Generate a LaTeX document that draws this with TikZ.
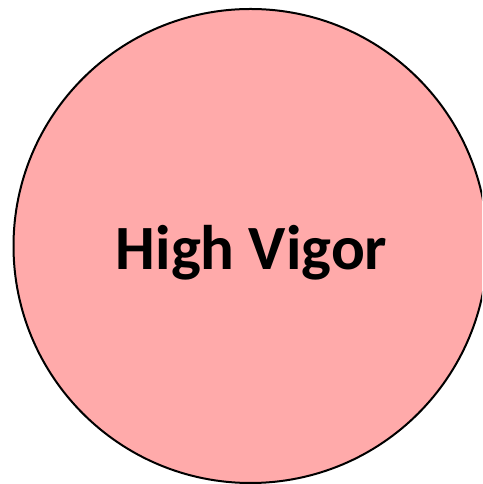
\documentclass[tikz,border=0pt]{standalone}
\usepackage{fontspec}
\setmainfont{Carlito}
\definecolor{vigorpink}{RGB}{255,170,170}
\tikzset{
  vigorcircle/.style={circle, draw=black, line width=2pt, fill=vigorpink, minimum size=474pt, inner sep=0pt},
  vigorlabel/.style={font=\bfseries\fontsize{63}{75}\selectfont, text=black, inner sep=0pt, anchor=base}
}
\begin{document}
\begin{tikzpicture}[x=1pt,y=1pt]
\useasboundingbox (0,0) rectangle (482,484);
\clip (0,0) rectangle (482,484);
\node[vigorcircle] (circ) at (250.5,238) {};
\node[vigorlabel] (lbl) at (251.5,214) {High Vigor};
\end{tikzpicture}
\end{document}
